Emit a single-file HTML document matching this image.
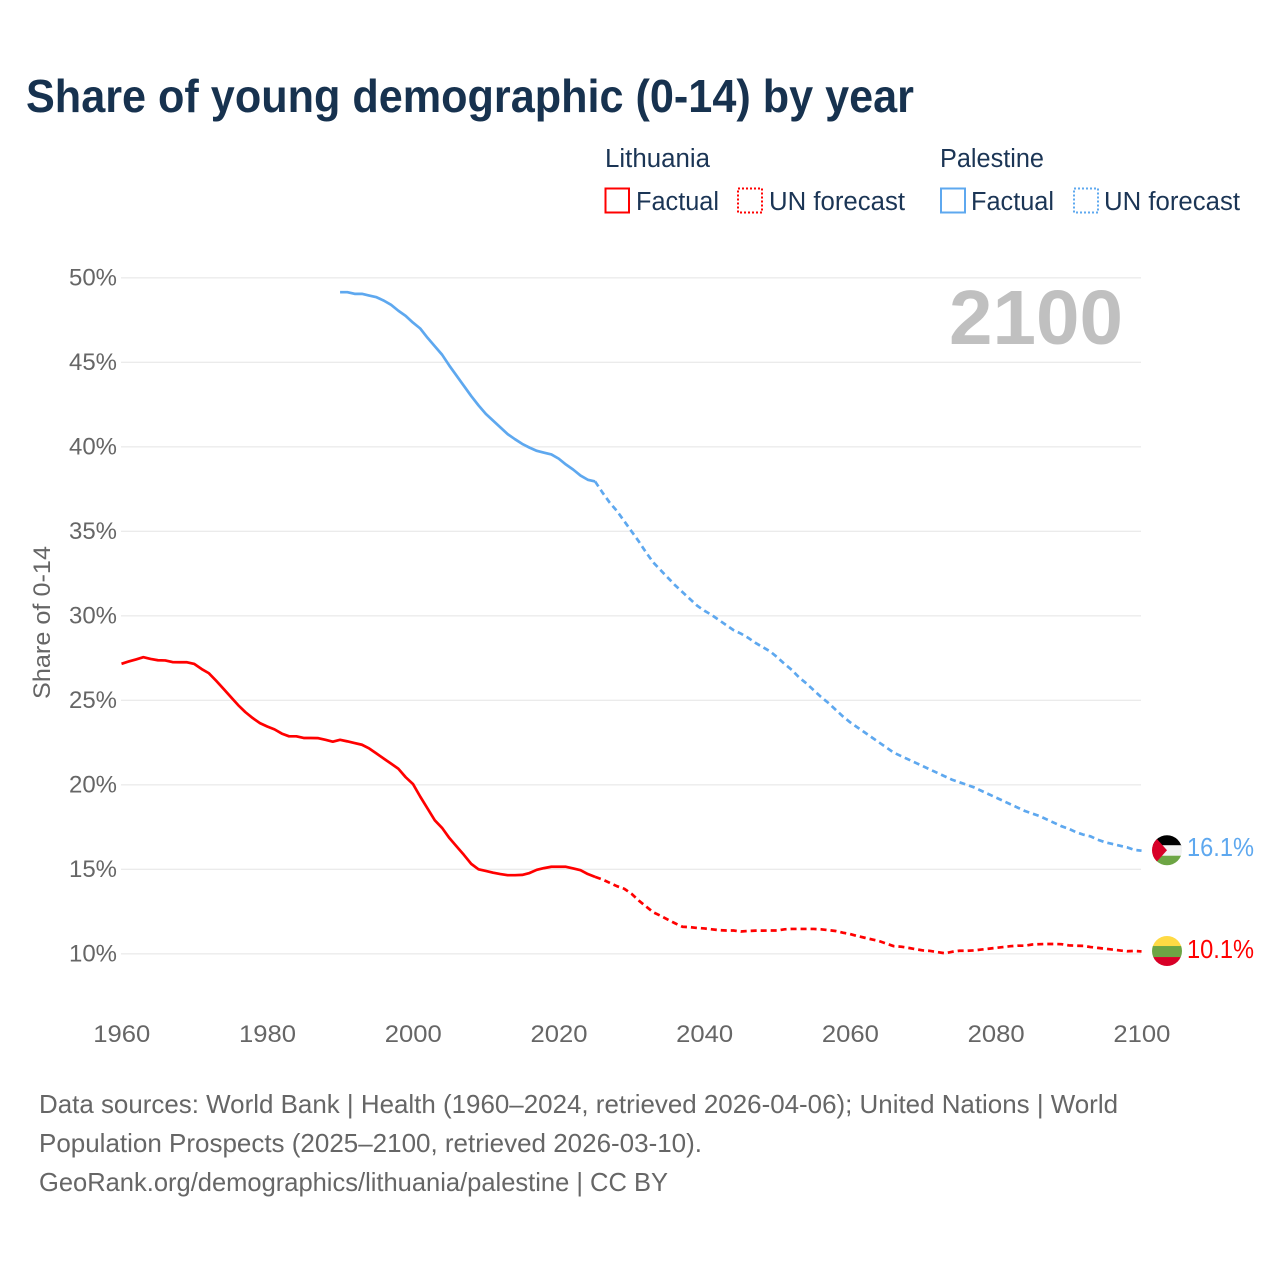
<!DOCTYPE html>
<html lang="en">
<head>
<meta charset="utf-8">
<title>Share of young demographic (0-14) by year</title>
<style>
html,body{margin:0;padding:0;background:#fff;}
svg{display:block;font-family:"Liberation Sans",sans-serif;}
</style>
</head>
<body>
<svg id="chart" xmlns="http://www.w3.org/2000/svg" width="1280" height="1280" viewBox="0 0 1280 1280">
  <defs>
    <clipPath id="flag-clip-ps"><circle id="clip-ps" cx="1167" cy="850" r="15"></circle></clipPath>
    <clipPath id="flag-clip-lt"><circle id="clip-lt" cx="1167" cy="951" r="15"></circle></clipPath>
  </defs>
  <rect width="1280" height="1280" fill="#ffffff"></rect>

  <text x="26" y="112" font-size="46" font-weight="700" fill="#17324f" textLength="888" lengthAdjust="spacingAndGlyphs">Share of young demographic (0-14) by year</text>

  <g font-size="25.5" fill="#1b3555">
    <text x="605" y="167" textLength="105" lengthAdjust="spacingAndGlyphs">Lithuania</text>
    <rect x="605.5" y="188.5" width="23.5" height="24" fill="none" stroke="#ff0000" stroke-width="2"></rect>
    <text x="636" y="210" textLength="83" lengthAdjust="spacingAndGlyphs">Factual</text>
    <rect x="738" y="188.5" width="24" height="24" fill="none" stroke="#ff0000" stroke-width="2" stroke-dasharray="2 2"></rect>
    <text x="769" y="210" textLength="136" lengthAdjust="spacingAndGlyphs">UN forecast</text>

    <text x="940" y="167" textLength="104" lengthAdjust="spacingAndGlyphs">Palestine</text>
    <rect x="941" y="188.5" width="24" height="24" fill="none" stroke="#5ea8ef" stroke-width="2"></rect>
    <text x="971" y="210" textLength="83" lengthAdjust="spacingAndGlyphs">Factual</text>
    <rect x="1074" y="188.5" width="24" height="24" fill="none" stroke="#5ea8ef" stroke-width="2" stroke-dasharray="2 2"></rect>
    <text x="1104" y="210" textLength="136" lengthAdjust="spacingAndGlyphs">UN forecast</text>
  </g>

  <g id="grid"></g>
  <g id="y-axis" font-size="24" fill="#666666"></g>
  <g id="x-axis" font-size="24" fill="#666666"></g>

  <text transform="translate(50,699) rotate(-90)" font-size="24" fill="#666666" textLength="153" lengthAdjust="spacingAndGlyphs">Share of 0-14</text>

  <text x="949" y="344" font-size="77" font-weight="700" fill="#c0c0c0" textLength="174" lengthAdjust="spacingAndGlyphs">2100</text>

  <g id="series"></g>

  <g id="flag-palestine" clip-path="url(#flag-clip-ps)">
    <rect x="1150" y="833" width="34" height="13" fill="#000000"></rect>
    <rect x="1150" y="845" width="34" height="10.5" fill="#f2f2f2"></rect>
    <rect x="1150" y="855.5" width="34" height="13" fill="#6da544"></rect>
    <polygon points="1150,831 1167,850 1150,869" fill="#d80027"></polygon>
  </g>
  <g id="flag-lithuania" clip-path="url(#flag-clip-lt)">
    <rect x="1150" y="934" width="34" height="12.5" fill="#ffda44"></rect>
    <rect x="1150" y="946" width="34" height="11" fill="#6da544"></rect>
    <rect x="1150" y="957" width="34" height="12" fill="#d80027"></rect>
  </g>

  <text id="end-label-palestine" x="1187" y="856" font-size="25.5" fill="#5ea8ef" textLength="67" lengthAdjust="spacingAndGlyphs"></text>
  <text id="end-label-lithuania" x="1187" y="958" font-size="25.5" fill="#ff0000" textLength="67" lengthAdjust="spacingAndGlyphs"></text>

  <g font-size="26" fill="#666666">
    <text x="39" y="1113" textLength="1079" lengthAdjust="spacingAndGlyphs">Data sources: World Bank | Health (1960–2024, retrieved 2026-04-06); United Nations | World</text>
    <text x="39" y="1152" textLength="663" lengthAdjust="spacingAndGlyphs">Population Prospects (2025–2100, retrieved 2026-03-10).</text>
    <text x="39" y="1191" textLength="629" lengthAdjust="spacingAndGlyphs">GeoRank.org/demographics/lithuania/palestine | CC BY</text>
  </g>
</svg>

<script>
const xTicks = [1960, 1980, 2000, 2020, 2040, 2060, 2080, 2100];
const yTicks = [10, 15, 20, 25, 30, 35, 40, 45, 50];

const lithuaniaFactualStart = 1960;
const lithuaniaFactual = [
  27.16, 27.3, 27.42, 27.55, 27.45, 27.37, 27.36, 27.26, 27.25, 27.25,
  27.15, 26.85, 26.6, 26.15, 25.68, 25.2, 24.72, 24.3, 23.95, 23.65,
  23.45, 23.28, 23.03, 22.87, 22.87, 22.77, 22.77, 22.76, 22.66, 22.55,
  22.66, 22.57, 22.47, 22.37, 22.15, 21.85, 21.55, 21.25, 20.95, 20.45,
  20.05, 19.3, 18.6, 17.9, 17.45, 16.85, 16.35, 15.85, 15.32, 15.0,
  14.9, 14.8, 14.72, 14.65, 14.65, 14.67, 14.78, 14.97, 15.07, 15.15,
  15.15, 15.15, 15.05, 14.95, 14.72, 14.55
];
const lithuaniaForecastStart = 2025;
const lithuaniaForecast = [
  14.55, 14.4, 14.2, 14.0, 13.85,
  13.55, 13.15, 12.8, 12.45, 12.25, 12.02, 11.8, 11.6, 11.58, 11.53,
  11.5, 11.45, 11.4, 11.38, 11.38, 11.32, 11.35, 11.37, 11.37, 11.38,
  11.38, 11.45, 11.47, 11.47, 11.47, 11.47, 11.45, 11.4, 11.35, 11.25,
  11.17, 11.05, 10.95, 10.85, 10.75, 10.6, 10.45, 10.42, 10.35, 10.27,
  10.2, 10.17, 10.1, 10.03, 10.12, 10.18, 10.18, 10.2, 10.25, 10.3,
  10.35, 10.4, 10.45, 10.48, 10.48, 10.55, 10.57, 10.58, 10.58, 10.57,
  10.5, 10.48, 10.47, 10.4, 10.35, 10.3, 10.25, 10.2, 10.15, 10.17,
  10.14
];
const palestineFactualStart = 1990;
const palestineFactual = [
  49.15, 49.15, 49.05, 49.05, 48.95, 48.85, 48.65, 48.4, 48.05, 47.75,
  47.35, 47.0, 46.45, 45.95, 45.45, 44.8, 44.2, 43.6, 43.0, 42.45,
  41.95, 41.55, 41.15, 40.75, 40.45, 40.17, 39.95, 39.76, 39.65, 39.55,
  39.3, 38.95, 38.65, 38.3, 38.05, 37.95
];
const palestineForecastStart = 2025;
const palestineForecast = [
  37.95, 37.3, 36.7, 36.2, 35.6,
  35.0, 34.4, 33.75, 33.15, 32.7, 32.25, 31.8, 31.4, 31.0, 30.6,
  30.3, 30.05, 29.75, 29.45, 29.15, 28.95, 28.7, 28.4, 28.15, 27.9,
  27.55, 27.15, 26.8, 26.35, 26.0, 25.6, 25.2, 24.85, 24.45, 24.05,
  23.7, 23.4, 23.1, 22.8, 22.5, 22.2, 21.9, 21.7, 21.5, 21.3,
  21.1, 20.9, 20.7, 20.5, 20.3, 20.15, 20.0, 19.85, 19.65, 19.45,
  19.25, 19.05, 18.85, 18.65, 18.45, 18.3, 18.15, 17.95, 17.75, 17.55,
  17.4, 17.2, 17.05, 16.95, 16.75, 16.6, 16.5, 16.4, 16.3, 16.15,
  16.1
];

const NS = 'http://www.w3.org/2000/svg';
const xLeft = 121.5, xPerYear = 7.286, yBase = 953.8, yPerPct = 16.9;
function xScale(year) { return xLeft + (year - 1960) * xPerYear; }
function yScale(v) { return yBase - (v - 10) * yPerPct; }

const gridG = document.getElementById('grid');
const yAxisG = document.getElementById('y-axis');
const xAxisG = document.getElementById('x-axis');
const seriesG = document.getElementById('series');

yTicks.forEach(function (t) {
  const line = document.createElementNS(NS, 'line');
  
  
  line.setAttribute('x1', 121);
  line.setAttribute('x2', 1141);
  line.setAttribute('y1', yScale(t));
  line.setAttribute('y2', yScale(t));
  line.setAttribute('stroke', '#ebebeb');
  line.setAttribute('stroke-width', '1.4');
  gridG.appendChild(line);

  const label = document.createElementNS(NS, 'text');
  
  
  label.setAttribute('x', 69);
  label.setAttribute('y', yScale(t) + 7.5);
  label.setAttribute('textLength', 48);
  label.setAttribute('lengthAdjust', 'spacingAndGlyphs');
  label.textContent = t + '%';
  yAxisG.appendChild(label);
});

xTicks.forEach(function (t) {
  const label = document.createElementNS(NS, 'text');
  
  
  label.setAttribute('x', xScale(t) - 28.2);
  label.setAttribute('y', 1042);
  label.setAttribute('textLength', 57);
  label.setAttribute('lengthAdjust', 'spacingAndGlyphs');
  label.textContent = t;
  xAxisG.appendChild(label);
});

function pathFor(values, startYear) {
  return values.map(function (v, i) {
    return (i ? 'L' : 'M') + xScale(startYear + i).toFixed(2) + ' ' + yScale(v).toFixed(2);
  }).join(' ');
}

function drawSeries(values, startYear, color, dashed, name) {
  const path = document.createElementNS(NS, 'path');
  
  
  path.setAttribute('d', pathFor(values, startYear));
  path.setAttribute('fill', 'none');
  path.setAttribute('stroke', color);
  path.setAttribute('stroke-width', '2.7');
  path.setAttribute('stroke-linejoin', 'round');
  if (dashed) path.setAttribute('stroke-dasharray', '6 4');
  seriesG.appendChild(path);
}

drawSeries(palestineFactual, palestineFactualStart, '#5ea8ef', false, 'line-palestine-factual');
drawSeries(palestineForecast, palestineForecastStart, '#5ea8ef', true, 'line-palestine-forecast');
drawSeries(lithuaniaFactual, lithuaniaFactualStart, '#ff0000', false, 'line-lithuania-factual');
drawSeries(lithuaniaForecast, lithuaniaForecastStart, '#ff0000', true, 'line-lithuania-forecast');

const palestineEnd = palestineForecast[palestineForecast.length - 1];
const lithuaniaEnd = lithuaniaForecast[lithuaniaForecast.length - 1];
const palestineLabel = document.getElementById('end-label-palestine');
const lithuaniaLabel = document.getElementById('end-label-lithuania');
palestineLabel.textContent = palestineEnd.toFixed(1) + '%';
lithuaniaLabel.textContent = lithuaniaEnd.toFixed(1) + '%';
palestineLabel.setAttribute('y', yScale(palestineEnd) + 5.3);
lithuaniaLabel.setAttribute('y', yScale(lithuaniaEnd) + 6.5);
document.getElementById('flag-palestine').setAttribute('transform', 'translate(0 ' + (yScale(palestineEnd) - 850.5) + ')');
document.getElementById('flag-lithuania').setAttribute('transform', 'translate(0 ' + (yScale(lithuaniaEnd) - 951.4) + ')');
</script>
</body>
</html>
